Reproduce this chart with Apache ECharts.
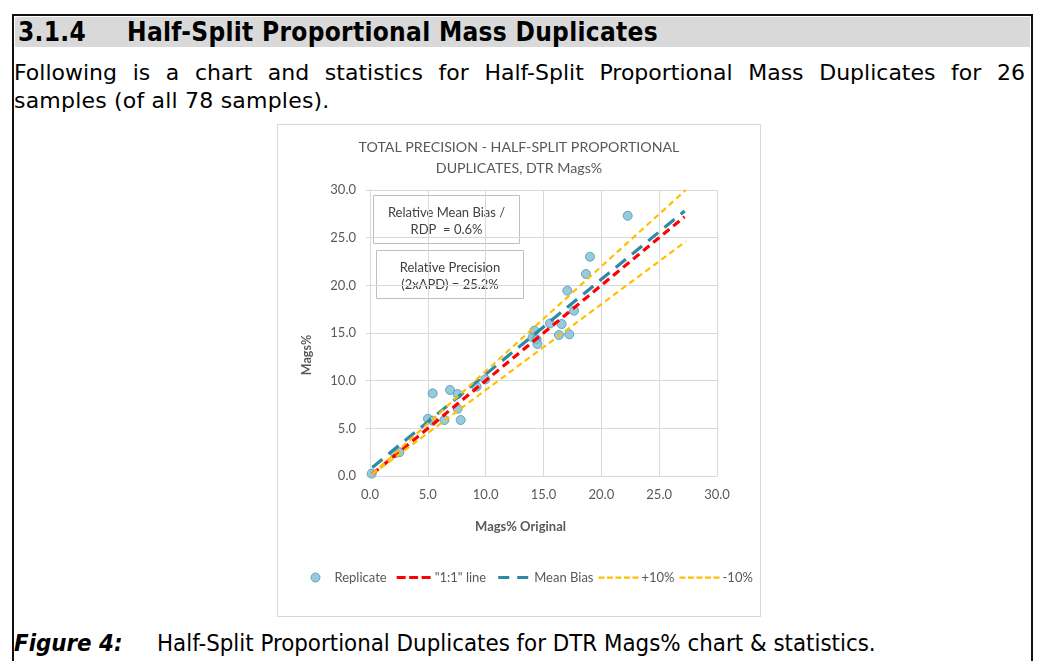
<!DOCTYPE html>
<html>
<head>
<meta charset="utf-8">
<script src="https://cdn.jsdelivr.net/npm/echarts@6/dist/echarts.min.js"></script>
<style>
  html, body { margin: 0; padding: 0; background: #fff; }
  body { width: 1045px; height: 661px; position: relative; overflow: hidden; font-family: "DejaVu Sans", Verdana, sans-serif; color: #000; }
  #frame { position: absolute; left: 12px; top: 14px; width: 1021px; height: 700px; border: 2px solid #111; border-bottom: none; box-sizing: border-box; }
  #head { position: absolute; left: 15px; top: 17px; width: 1015px; height: 30px; background: #d9d9d9; }
  #head span { position: absolute; top: -1px; font-weight: bold; font-size: 26px; letter-spacing: 0.3px; line-height: 32px; font-family: "DejaVu Sans Condensed", "DejaVu Sans", sans-serif; font-stretch: condensed; }
  .line1 { position: absolute; left: 14px; top: 60px; width: 1011px; font-size: 22px; text-align: justify; text-align-last: justify; white-space: nowrap; }
  .line2 { position: absolute; left: 14px; top: 88px; font-size: 22px; letter-spacing: 0.2px; }
  #chart { position: absolute; left: 277px; top: 124px; width: 484px; height: 493px; border: 1px solid #d9d9d9; box-sizing: border-box; }
  #cap { position: absolute; left: 14px; top: 629px; font-size: 23.8px; white-space: nowrap; font-family: "DejaVu Sans Condensed", "DejaVu Sans", sans-serif; font-stretch: condensed; }
  #cap b { font-style: italic; }
</style>
</head>
<body>
<div id="frame"></div>
<div id="head"><span style="left:3px">3.1.4</span><span style="left:112px">Half-Split Proportional Mass Duplicates</span></div>
<div class="line1">Following is a chart and statistics for Half-Split Proportional Mass Duplicates for 26</div>
<div class="line2">samples (of all 78 samples).</div>
<div id="chart"></div>
<div id="cap"><b>Figure 4:</b><span style="position:absolute;left:143px">Half-Split Proportional Duplicates for DTR Mags% chart &amp; statistics.</span></div>
<script>
// Original vs replicate Mags% for the 26 half-split duplicate pairs
const originalMags = [0.15, 2.16, 2.54, 5.01, 5.42, 6.43, 7.84, 5.42, 6.92, 7.58, 7.58, 9.22, 9.97,
  14.06, 14.21, 14.41, 14.47, 15.56, 16.57, 16.34, 17.23, 17.64, 17.06, 18.67, 19.02, 22.28];
const replicateMags = [0.25, 2.38, 2.49, 6.00, 5.80, 5.87, 5.87, 8.67, 9.02, 8.60, 7.06, 9.37, 10.14,
  14.55, 15.25, 14.34, 13.85, 16.00, 15.94, 14.79, 14.86, 17.34, 19.44, 21.19, 23.00, 27.30];

// Reference lines (end points along the original axis)
const refX = [0.2, 27.2];
const oneToOneY = [0.2, 27.2];
const meanBiasY = [0.9, 27.8];
const refXPlus = [0.2, 27.3];
const plus10Y = [0.22, 30.0];
const minus10Y = [0.18, 24.6];

const axisTicks = [0, 5, 10, 15, 20, 25, 30];

const chartTitle = 'TOTAL PRECISION - HALF-SPLIT PROPORTIONAL\nDUPLICATES, DTR Mags%';
const statBias = ['Relative Mean Bias /', 'RDP  = 0.6%'];
const statPrecision = ['Relative Precision', '(2xAPD) = 25.2%'];
const legendNames = ['Replicate', '"1:1" line', 'Mean Bias', '+10%', '-10%'];

const pairs = (xs, ys) => xs.map((x, i) => [x, ys[i]]);

const FONT = 'Lato, "Open Sans", sans-serif';
const GREY = '#595959';

// Legend swatches: each path sits in a 40x10 frame pinned by two hairline corner dots
const FRAME = 'M0,0h0.01v0.01h-0.01z M39.99,9.99h0.01v0.01h-0.01z ';
const ICON_DOT = 'path://' + FRAME + 'M19.5,5 a4.5,4.5 0 1,0 9,0 a4.5,4.5 0 1,0 -9,0z';
const ICON_RED = 'path://' + FRAME + 'M5,3.5h9v3h-9z M17.5,3.5h9v3h-9z M30,3.5h9v3h-9z';
const ICON_BLUE = 'path://' + FRAME + 'M7,3.5h11v3h-11z M26,3.5h11v3h-11z';
const ICON_YELLOW = 'path://' + FRAME + 'M0,4h6v2.2h-6z M8.5,4h6v2.2h-6z M17,4h6v2.2h-6z M25.5,4h6v2.2h-6z M34,4h6v2.2h-6z';

const chart = echarts.init(document.getElementById('chart'), null, { renderer: 'canvas' });

function statBox(x, y, w, h, lines) {
  return {
    type: 'group', left: x, top: y,
    children: [
      { type: 'rect', shape: { x: 0, y: 0, width: w, height: h }, style: { fill: '#fff', stroke: '#bfbfbf', lineWidth: 1 } },
      { type: 'text', style: { x: w / 2, y: 17, text: lines[0], textAlign: 'center', textVerticalAlign: 'middle', font: '13px ' + FONT, fill: '#404040' } },
      { type: 'text', style: { x: w / 2, y: 34, text: lines[1], textAlign: 'center', textVerticalAlign: 'middle', font: '13px ' + FONT, fill: '#404040' } }
    ]
  };
}

chart.setOption({
  animation: false,
  textStyle: { fontFamily: FONT },
  title: {
    text: chartTitle, left: 'center', top: 7,
    textStyle: { fontSize: 14.2, fontWeight: 'normal', color: GREY, lineHeight: 21, fontFamily: FONT }
  },
  grid: { left: 92, right: 43, top: 65, bottom: 140 },
  xAxis: {
    type: 'value', min: axisTicks[0], max: axisTicks[axisTicks.length - 1], interval: 5,
    name: 'Mags% Original', nameLocation: 'middle', nameGap: 44,
    nameTextStyle: { fontWeight: 'bold', fontSize: 13, color: GREY, padding: [0, 46, 0, 0] },
    axisLine: { show: true, lineStyle: { color: '#d9d9d9' } },
    axisTick: { show: false },
    axisLabel: { color: GREY, fontSize: 13, margin: 12, formatter: v => v.toFixed(1) },
    splitLine: { show: true, lineStyle: { color: '#d9d9d9' } }
  },
  yAxis: {
    type: 'value', min: axisTicks[0], max: axisTicks[axisTicks.length - 1], interval: 5,
    name: 'Mags%', nameLocation: 'middle', nameGap: 57,
    nameTextStyle: { fontWeight: 'bold', fontSize: 12.5, color: GREY, padding: [0, 44, 0, 0] },
    axisLine: { show: true, lineStyle: { color: '#d9d9d9' } },
    axisTick: { show: true, length: 4, lineStyle: { color: '#d9d9d9' } },
    axisLabel: { color: GREY, fontSize: 13, margin: 14, formatter: v => v.toFixed(1) },
    splitLine: { show: true, lineStyle: { color: '#d9d9d9' } }
  },
  legend: {
    left: 13, top: 446, width: 469, padding: 0, itemWidth: 40, itemHeight: 10, itemGap: 5, selectedMode: false,
    itemStyle: { borderWidth: 0 },
    textStyle: { color: GREY, fontSize: 13, fontFamily: FONT, padding: [0, 0, 0, -2] },
    data: [
      { name: legendNames[0], icon: ICON_DOT, itemStyle: { color: '#7cbdd3', borderColor: '#4c97b0', borderWidth: 1 } },
      { name: legendNames[1], icon: ICON_RED },
      { name: legendNames[2], icon: ICON_BLUE },
      { name: legendNames[3], icon: ICON_YELLOW },
      { name: legendNames[4], icon: ICON_YELLOW }
    ]
  },
  graphic: [
    statBox(95, 70, 146, 48, statBias),
    statBox(98, 125, 147, 48, statPrecision)
  ],
  series: [
    {
      name: legendNames[0], type: 'scatter', symbol: 'circle', symbolSize: 9,
      itemStyle: { color: '#7cbdd3', borderColor: '#4c97b0', borderWidth: 1 },
      data: pairs(originalMags, replicateMags), z: 2
    },
    {
      name: legendNames[1], type: 'line', showSymbol: false, symbol: 'none', data: pairs(refX, oneToOneY),
      itemStyle: { color: '#ff0000' }, lineStyle: { color: '#ff0000', width: 3.2, type: [8, 5] }, z: 3
    },
    {
      name: legendNames[2], type: 'line', showSymbol: false, symbol: 'none', data: pairs(refX, meanBiasY),
      itemStyle: { color: '#2e88a6' }, lineStyle: { color: '#2e88a6', width: 3.2, type: [13, 8] }, z: 3
    },
    {
      name: legendNames[3], type: 'line', showSymbol: false, symbol: 'none', data: pairs(refXPlus, plus10Y),
      itemStyle: { color: '#ffc000' }, lineStyle: { color: '#ffc000', width: 2.2, type: [6, 4] }, z: 3
    },
    {
      name: legendNames[4], type: 'line', showSymbol: false, symbol: 'none', data: pairs(refXPlus, minus10Y),
      itemStyle: { color: '#ffc000' }, lineStyle: { color: '#ffc000', width: 2.2, type: [6, 4] }, z: 3
    }
  ]
});
</script>
</body>
</html>
